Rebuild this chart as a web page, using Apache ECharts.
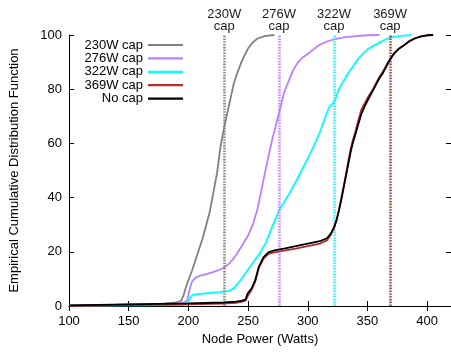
<!DOCTYPE html>
<html>
<head>
<meta charset="utf-8">
<script src="https://cdn.jsdelivr.net/npm/echarts@6/dist/echarts.min.js"></script>
<style>
  html, body { margin: 0; padding: 0; background: #fff; }
  #chart { width: 451px; height: 354px; }
</style>
</head>
<body>
<div id="chart"></div>
<script>
// Empirical CDF of node power under different power caps.
// Each series: power readings (Watts) and cumulative percentage.

const cap230Watts = [100, 140, 180, 190, 194, 196, 198, 200, 203, 206, 209, 212, 215, 218, 221, 224, 227, 230, 232, 234, 236, 238, 241, 244, 247, 250, 254, 258, 264, 272];
const cap230Cdf   = [0.3, 0.5, 0.9, 1.3, 2, 4, 7, 9.5, 13, 17, 21, 25, 30, 35, 42, 49, 59, 66, 70, 74, 78, 82, 86, 89.5, 92.5, 95, 97.3, 98.7, 99.6, 100];

const cap276Watts = [100, 150, 190, 196, 199, 201, 203, 206, 210, 215, 220, 225, 230, 235, 240, 245, 250, 254, 258, 262, 266, 270, 274, 277, 280, 284, 288, 292, 296, 300, 305, 310, 316, 322, 330, 340, 350, 360];
const cap276Cdf   = [0.2, 0.4, 0.8, 1.2, 2, 6, 9, 10.5, 11.2, 11.8, 12.4, 13.2, 14.2, 16, 18.8, 22.3, 26, 30, 36, 44.5, 53, 61, 68, 73, 78.5, 83, 87.3, 90, 91.8, 93, 94.8, 96.4, 97.6, 98.4, 99.1, 99.6, 99.9, 100];

const cap322Watts = [100, 150, 190, 198, 200, 202, 204, 210, 218, 226, 234, 238, 242, 246, 250, 255, 260, 265, 270, 276, 284, 292, 300, 305, 310, 315, 318, 321, 323, 326, 330, 334, 338, 342, 346, 350, 355, 360, 365, 370, 378, 387];
const cap322Cdf   = [0.1, 0.2, 0.3, 0.5, 1.5, 3.5, 4.2, 4.5, 4.8, 5.1, 5.6, 6.5, 8.5, 11, 13.5, 16.5, 19.5, 23.5, 29, 35.4, 41, 47.5, 54.5, 59, 64, 70, 73.5, 74.8, 76, 80, 83, 86, 88.5, 91, 93, 94.7, 96, 97.2, 98.3, 99.2, 99.7, 100];

const uncappedWatts = [100, 150, 200, 230, 240, 245, 248, 249.5, 251, 253, 256, 259, 263, 267, 272, 280, 290, 300, 310, 316, 319, 322, 324, 326, 328, 330, 332, 334, 336, 338, 340, 342, 345, 348, 351, 354, 357, 360, 363, 366, 369, 372, 376, 380, 385, 390, 395, 400, 405];
const cap369Cdf   = [0, 0.3, 0.6, 0.9, 1.2, 1.6, 2, 3.5, 4.6, 6, 9, 14, 17.5, 19.2, 19.8, 20.4, 21.2, 22.1, 23, 24.2, 26, 28.8, 31.5, 35.2, 39.5, 44, 48.5, 53.5, 58, 61.5, 64.5, 68, 72.5, 75, 77.5, 79.5, 82, 84.5, 86.5, 89, 91.2, 93, 94.8, 96, 97.7, 98.8, 99.5, 99.9, 100];
const noCapCdf    = [0.2, 0.6, 1, 1.3, 1.6, 2, 2.5, 4.5, 5.2, 6.5, 9.5, 14.5, 18, 19.8, 20.5, 21.2, 22.1, 23, 23.9, 25, 26.5, 29, 31.5, 35, 39, 43.5, 48, 52.5, 57, 60.5, 63.5, 66.5, 71, 74, 76.5, 79, 81.5, 84, 86, 88.5, 91, 93, 94.8, 96, 97.7, 98.8, 99.5, 99.9, 100];

const seriesNames = ['230W cap', '276W cap', '322W cap', '369W cap', 'No cap'];
const capLimits   = [230, 276, 322, 369];
const capLabels   = ['230W\ncap', '276W\ncap', '322W\ncap', '369W\ncap'];
const xTicks = { min: 100, max: 420, step: 50 };
const yTicks = { min: 0, max: 100, step: 20 };

const colors = ['#808080', '#bb80ff', '#00ffff', '#b03030', '#000000'];
const FONT = 'Liberation Sans, Arial, sans-serif';

function pairs(xs, ys) { return xs.map((x, i) => [x, ys[i]]); }

const curves = [
  pairs(cap230Watts, cap230Cdf),
  pairs(cap276Watts, cap276Cdf),
  pairs(cap322Watts, cap322Cdf),
  pairs(uncappedWatts, cap369Cdf),
  pairs(uncappedWatts, noCapCdf)
];

const series = curves.map((data, i) => {
  const s = {
    name: seriesNames[i],
    type: 'line',
    data: data,
    symbol: 'none',
    lineStyle: { color: colors[i], width: 1.8 },
    itemStyle: { color: colors[i] },
    animation: false,
    z: 2 + i
  };
  if (i < capLimits.length) {
    s.markLine = {
      silent: true,
      symbol: 'none',
      animation: false,
      lineStyle: { color: colors[i], type: [1.6, 1.2], width: 2.6, opacity: 0.9 },
      label: {
        show: true,
        position: 'end',
        formatter: capLabels[i],
        color: '#000',
        fontFamily: FONT,
        fontSize: 13,
        lineHeight: 12,
        distance: 3
      },
      data: [{ xAxis: capLimits[i] }]
    };
  }
  return s;
});

const chart = echarts.init(document.getElementById('chart'), null, { renderer: 'canvas' });

const axisLine = { show: true, lineStyle: { color: '#000', width: 1 } };
const tick = { show: true, inside: true, length: 5, lineStyle: { color: '#000' } };

chart.setOption({
  animation: false,
  backgroundColor: '#fff',
  grid: { left: 69, top: 35, width: 384, height: 271, containLabel: false },
  legend: {
    data: seriesNames,
    orient: 'vertical',
    left: 73,
    top: 38.5,
    padding: 0,
    align: 'right',
    itemWidth: 35,
    itemHeight: 13,
    itemGap: 0.4,
    selectedMode: false,
    itemStyle: { opacity: 0 },
    lineStyle: { width: 2.2 },
    textStyle: { fontFamily: FONT, fontSize: 13, color: '#000', width: 70, align: 'right', lineHeight: 13 }
  },
  xAxis: [
    {
      type: 'value', min: xTicks.min, max: xTicks.max, interval: xTicks.step,
      name: 'Node Power (Watts)', nameLocation: 'middle', nameGap: 27,
      nameTextStyle: { fontFamily: FONT, fontSize: 13, color: '#000' },
      axisLine: axisLine, axisTick: tick,
      axisLabel: { fontFamily: FONT, fontSize: 13, color: '#000', margin: 9, showMaxLabel: false },
      splitLine: { show: false }
    },
    {
      type: 'value', position: 'top', min: xTicks.min, max: xTicks.max, interval: xTicks.step,
      axisLine: axisLine, axisTick: tick, axisLabel: { show: false }, splitLine: { show: false }
    }
  ],
  yAxis: [
    {
      type: 'value', min: yTicks.min, max: yTicks.max, interval: yTicks.step,
      name: 'Empirical Cumulative Distribution Function', nameLocation: 'middle', nameGap: 48,
      nameTextStyle: { fontFamily: FONT, fontSize: 13, color: '#000' },
      axisLine: axisLine, axisTick: tick,
      axisLabel: { fontFamily: FONT, fontSize: 13, color: '#000', margin: 7 },
      splitLine: { show: false }
    },
    {
      type: 'value', position: 'right', min: yTicks.min, max: yTicks.max, interval: yTicks.step,
      axisLine: axisLine, axisTick: tick, axisLabel: { show: false }, splitLine: { show: false }
    }
  ],
  series: series
});
</script>
</body>
</html>
